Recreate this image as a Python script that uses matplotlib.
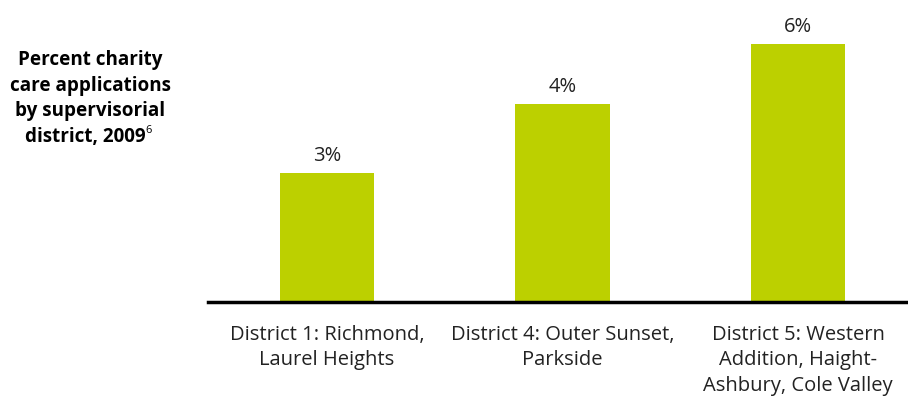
import matplotlib.pyplot as plt

plt.rcParams['font.family'] = ['Open Sans', 'DejaVu Sans']

districts = ['District 1: Richmond,\nLaurel Heights',
             'District 4: Outer Sunset,\nParkside',
             'District 5: Western\nAddition, Haight-\nAshbury, Cole Valley']
percent = [3.0, 4.6, 6.0]
value_labels = ['3%', '4%', '6%']
title_lines = ['Percent charity', 'care applications', 'by supervisorial']
title_last = 'district, 2009'
footnote = '6'

W, H = 908, 402
fig = plt.figure(figsize=(W / 100, H / 100), dpi=100)
ax = fig.add_axes([208 / W, 99 / H, 700 / W, 279.5 / H])

x = range(len(districts))
bars = ax.bar(x, percent, width=0.4, color='#bcd000')
for b, lab in zip(bars, value_labels):
    ax.annotate(lab, (b.get_x() + b.get_width() / 2, b.get_height()),
                xytext=(0, 9.5), textcoords='offset points',
                ha='center', va='baseline', fontsize=14.5, color='#222222')

ax.set_xlim(-0.505, 2.467)
ax.set_ylim(0, 6.5)
ax.set_xticks(list(x))
ax.set_xticklabels(districts, fontsize=14.5, color='#222222', linespacing=1.35)
ax.tick_params(axis='x', length=0, pad=16)
ax.set_yticks([])
for s in ['top', 'right', 'left']:
    ax.spines[s].set_visible(False)
ax.spines['bottom'].set_linewidth(2.5)
ax.spines['bottom'].set_color('black')

# title block on the left, lines centred at x=90px
for i, line in enumerate(title_lines):
    fig.text(90 / W, 1 - (65 + 25.7 * i) / H, line, ha='center', va='baseline',
             fontsize=13.6, fontweight='bold')
fig.text(146 / W, 1 - 142 / H, title_last, ha='right', va='baseline',
         fontsize=13.6, fontweight='bold')
fig.text(145.5 / W, 1 - 133 / H, footnote, ha='left', va='baseline', fontsize=8)

plt.savefig('out.png', dpi=100)
